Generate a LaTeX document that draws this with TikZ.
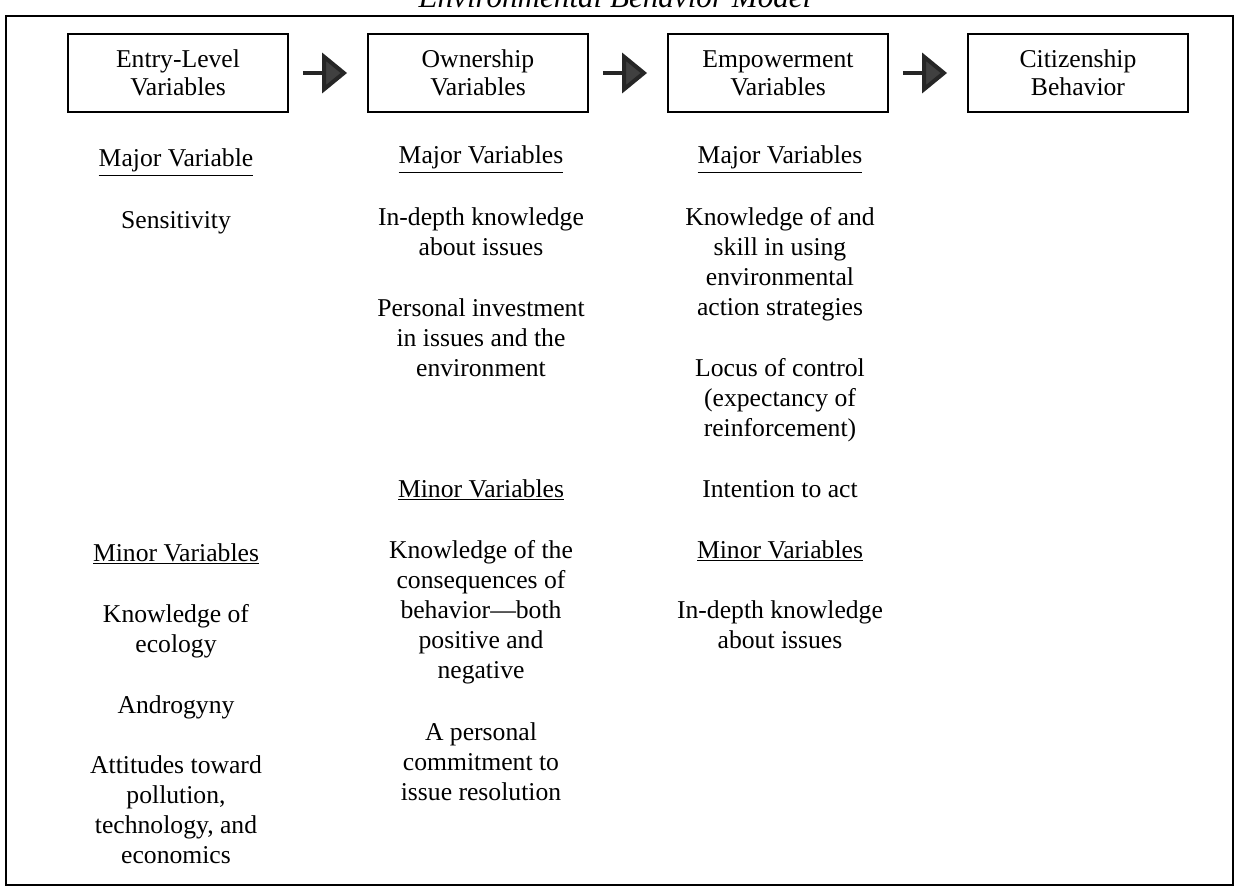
\documentclass[tikz,border=0pt]{standalone}
\usepackage{fontspec}
\setmainfont{Liberation Serif}
\usetikzlibrary{arrows.meta,positioning}
\newcommand{\stack}[1]{\begin{tabular}[t]{@{}c@{}}#1\end{tabular}}

\begin{document}
\begin{tikzpicture}[x=0.02cm,y=-0.02cm,every text node part/.style={align=center},
  stage/.style={draw,line width=1.1pt,minimum width=4.4cm,minimum height=1.56cm,inner sep=0pt,font=\fontsize{14.6}{16}\selectfont},
  entry/.style={anchor=base,inner sep=0pt,font=\fontsize{14.6}{17.2}\selectfont},
  flow/.style={line width=2.3pt,draw=black!85,-{Triangle[width=22.7pt,length=14.2pt,fill=black!75]}}]
\useasboundingbox (0,0) rectangle (1238,892);
\draw[line width=1.1pt] (6,16) rectangle (1233,885);
\node[anchor=base,inner sep=0pt,font=\fontsize{17.7}{20}\selectfont\itshape] (title) at (615,8) {Environmental Behavior Model};
% stages
\node[stage] (lvl) at (178,73) {Entry-Level\\Variables};
\node[stage] (own) at (478,73) {Ownership\\Variables};
\node[stage] (emp) at (778,73) {Empowerment\\Variables};
\node[stage] (cit) at (1078,73) {Citizenship\\Behavior};
\foreach \a/\b in {lvl/own,own/emp,emp/cit}
  \draw[flow] ([xshift=0.28cm]\a.east) -- ([xshift=-0.4cm]\b.west);
% entry-level column
\node[entry] (lvlmajor) at (176,167) {\underline{Major Variable}};
\node[entry] (sens) at (176,228) {Sensitivity};
\node[entry] (lvlminor) at (176,561) {\underline{Minor Variables}};
\node[entry] (ecol) at (176,622) {\stack{Knowledge of\\ecology}};
\node[entry] (andro) at (176,713) {Androgyny};
\node[entry] (attit) at (176,773) {\stack{Attitudes toward\\pollution,\\technology, and\\economics}};
% ownership column
\node[entry] (ownmajor) at (481,164) {\underline{Major Variables}};
\node[entry] (owndepth) at (481,225) {\stack{In-depth knowledge\\about issues}};
\node[entry] (invest) at (481,316) {\stack{Personal investment\\in issues and the\\environment}};
\node[entry] (ownminor) at (481,497) {\underline{Minor Variables}};
\node[entry] (conseq) at (481,558) {\stack{Knowledge of the\\consequences of\\behavior---both\\positive and\\negative}};
\node[entry] (commit) at (481,740) {\stack{A personal\\commitment to\\issue resolution}};
% empowerment column
\node[entry] (empmajor) at (780,164) {\underline{Major Variables}};
\node[entry] (skill) at (780,225) {\stack{Knowledge of and\\skill in using\\environmental\\action strategies}};
\node[entry] (locus) at (780,376) {\stack{Locus of control\\(expectancy of\\reinforcement)}};
\node[entry] (intent) at (780,497) {Intention to act};
\node[entry] (empminor) at (780,558) {\underline{Minor Variables}};
\node[entry] (empdepth) at (780,618) {\stack{In-depth knowledge\\about issues}};
\end{tikzpicture}
\end{document}
